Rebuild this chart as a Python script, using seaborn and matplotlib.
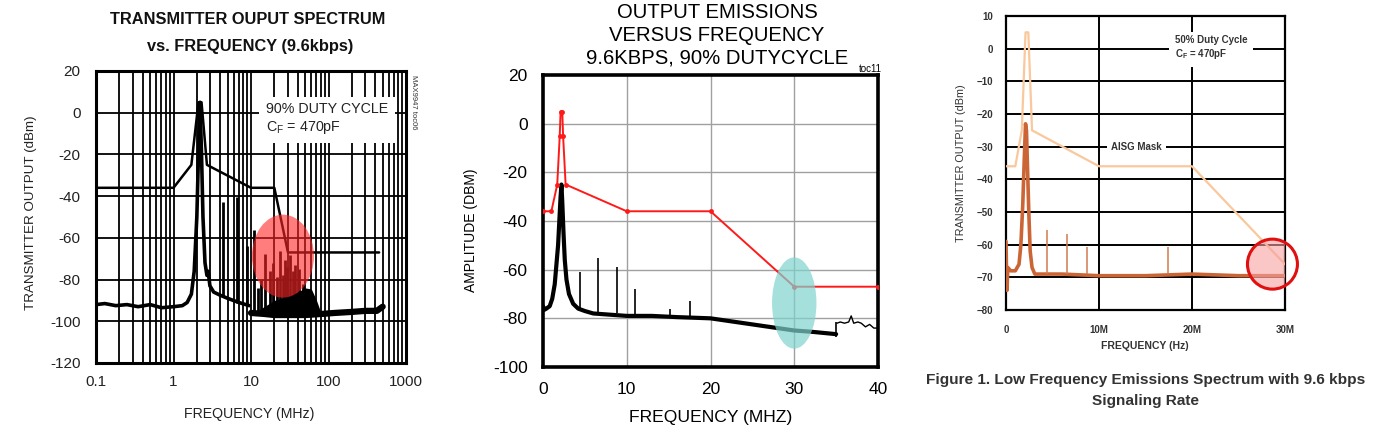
import matplotlib

matplotlib.use("Agg")
import matplotlib.pyplot as plt
import numpy as np
import pandas as pd
import seaborn as sns
from matplotlib.patches import Ellipse
from matplotlib.ticker import FixedLocator, FixedFormatter, NullFormatter

# ---- panel 1: transmitter output spectrum (log freq, MHz) ----
mask1_f = [0.1, 1, 1.7, 2.1, 2.3, 2.7, 10, 20, 30, 450]
mask1_db = [-36, -36, -25, 5, 5, -25, -36, -36, -67, -67]
spec1_f = [0.1, 0.13, 0.18, 0.25, 0.35, 0.5, 0.7, 1.0, 1.3, 1.5, 1.7, 1.85, 2.0, 2.1, 2.2,
           2.3, 2.4, 2.55, 2.7, 2.8, 2.95, 3.3, 4, 5, 7, 9.5]
spec1_db = [-92, -91.5, -92.5, -92, -93, -92, -93.5, -93, -92.5, -91, -87, -76, -50, -20, 5,
            -20, -50, -72, -78, -76, -83, -86, -87.5, -89, -91, -92.5]
floor1_f = [10, 15, 20, 30, 50, 80, 120, 200, 300, 420, 500]
floor1_db = [-96, -96.5, -97, -97, -97, -96.5, -96, -95.5, -95, -95, -93]
hump1_f = [12, 20, 30, 40, 50, 60, 70, 80]
hump1_db = [-95, -90, -88, -86, -84, -84.5, -90, -96]
harm1_f = [4.35, 6.6, 8.8, 11, 12.3, 13.4, 15.2, 17.6, 19.4, 21.5, 23.7, 25.5, 27.5, 29.5,
           31.9, 34.5, 37, 42, 47, 55]
harm1_db = [-43, -40.5, -64, -56, -84, -80, -67.5, -76, -72, -79, -66.5, -78, -70.5, -74,
            -68, -76, -73, -75, -82, -88]
harm1_base = [-88, -91, -92, -95, -96, -96, -96, -96, -96, -96, -96, -96, -96, -96,
              -96, -96, -96, -96, -96, -96]
ticks1_x = [0.1, 1, 10, 100, 1000]
ticks1_xlab = ["0.1", "1", "10", "100", "1000"]
ticks1_y = [20, 0, -20, -40, -60, -80, -100, -120]
ticks1_ylab = ["20", "0", "-20", "-40", "-60", "-80", "-100", "-120"]

# ---- panel 2: output emissions (linear freq, MHz) ----
mask2_f = [0, 1, 1.7, 2.0, 2.1, 2.3, 2.4, 2.7, 10, 20, 30, 40]
mask2_db = [-36, -36, -25, -5, 5, 5, -5, -25, -36, -36, -67, -67]
spec2_f = [0, 0.15, 0.4, 0.8, 1.1, 1.4, 1.6, 1.8, 1.95, 2.1, 2.2, 2.3, 2.45, 2.6, 2.8,
           3.1, 3.6, 4.2, 5, 6, 8, 10, 13, 16, 20, 23, 26, 28, 30, 32, 35]
spec2_db = [-75, -76.5, -76, -75, -72, -66, -58, -50, -40, -30, -25, -32, -45, -56, -64,
            -70, -74, -76, -77, -78, -78.5, -79, -79, -79.5, -80, -81.5, -83, -84, -85,
            -85.5, -86.5]
tail2_f = [35.1, 35.5, 36, 36.5, 36.8, 37.1, 37.6, 38, 38.5, 39, 39.5, 40]
tail2_db = [-82, -81.5, -82, -81.5, -79, -82, -81.5, -82, -83.5, -82.5, -84, -84]
harm2_f = [4.4, 6.6, 8.8, 11, 15.2, 17.5]
harm2_db = [-61, -55, -59, -68, -76, -73]
harm2_base = [-76, -77.5, -78, -79, -79.5, -79.5]
ticks2_x = [0, 10, 20, 30, 40]
ticks2_y = [20, 0, -20, -40, -60, -80, -100]
ticks2_ylab = ["20", "0", "-20", "-40", "-60", "-80", "-100"]

# ---- panel 3: low frequency emissions (MHz, labelled as Hz) ----
mask3_f = [0, 1, 1.7, 2.1, 2.4, 2.8, 10, 20, 30]
mask3_db = [-36, -36, -25, 5, 5, -25, -36, -36, -66]
spec3_f = [0, 0.05, 0.1, 0.2, 0.5, 1.0, 1.4, 1.6, 1.8, 1.95, 2.1, 2.2, 2.3, 2.45, 2.6,
           2.8, 3.1, 4, 6, 10, 15, 20, 25, 30]
spec3_db = [-59, -67, -74, -67, -68, -68, -66, -60, -48, -35, -23, -25, -35, -50, -62,
            -67, -69, -69, -69, -69.5, -69.5, -69, -69.5, -69.5]
harm3_f = [4.37, 6.53, 8.75, 17.4]
harm3_db = [-55.5, -56.7, -60.6, -60.6]
ticks3_x = [0, 10, 20, 30]
ticks3_xlab = ["0", "10M", "20M", "30M"]
ticks3_y = [10, 0, -10, -20, -30, -40, -50, -60, -70, -80]
ticks3_ylab = ["10", "0", "\u221210", "\u221220", "\u221230", "\u221240", "\u221250",
               "\u221260", "\u221270", "\u221280"]

W, H = 1373, 429
ARIAL = ["Liberation Sans", "DejaVu Sans"]

sns.set_style("white")
plt.rcParams["font.family"] = ARIAL


def px_axes(fig, x0, y0, x1, y1):
    return fig.add_axes([x0 / W, 1 - y1 / H, (x1 - x0) / W, (y1 - y0) / H])


fig = plt.figure(figsize=(W / 100, H / 100), dpi=100)
fig.patch.set_facecolor("white")

# ================= panel 1 =================
ax1 = px_axes(fig, 96, 71, 406, 363)
ax1.set_xscale("log")
ax1.set_xlim(0.1, 1000)
ax1.set_ylim(-120, 20)
minor1 = [m * 10.0 ** d for d in range(-1, 3) for m in range(2, 10)]
for v in minor1 + ticks1_x[1:-1]:
    ax1.axvline(v, color="black", lw=1.3, zorder=0)
for v in ticks1_y[1:-1]:
    ax1.axhline(v, color="black", lw=1.3, zorder=0)

sns.lineplot(x=mask1_f, y=mask1_db, ax=ax1, color="black", lw=1.8, sort=False, zorder=3)
sns.lineplot(x=spec1_f, y=spec1_db, ax=ax1, color="black", lw=2.6, sort=False, zorder=3)
sns.lineplot(x=floor1_f, y=floor1_db, ax=ax1, color="black", lw=4.5, sort=False, zorder=3)
ax1.fill_between(hump1_f, [-97] * len(hump1_f), hump1_db, color="black", lw=0, zorder=3)
ax1.vlines(harm1_f, harm1_base, harm1_db, color="black", lw=2.0, zorder=3)
ax1.add_patch(Ellipse((0.603, 0.366), 0.2, 0.284, transform=ax1.transAxes,
                      facecolor=(1, 0.15, 0.15), alpha=0.6, lw=0, zorder=4))

ax1.xaxis.set_major_locator(FixedLocator(ticks1_x))
ax1.xaxis.set_major_formatter(FixedFormatter(ticks1_xlab))
ax1.xaxis.set_minor_formatter(NullFormatter())
ax1.yaxis.set_major_locator(FixedLocator(ticks1_y))
ax1.yaxis.set_major_formatter(FixedFormatter(ticks1_ylab))
ax1.tick_params(axis="both", length=0, labelsize=11, colors="#222222")
ax1.tick_params(axis="x", pad=9)
ax1.tick_params(axis="y", pad=11)
ax1.tick_params(which="minor", length=0)
for s in ax1.spines.values():
    s.set_visible(True)
    s.set_color("black")
    s.set_linewidth(2.2)
ax1.set_xlabel("FREQUENCY (MHz)", fontsize=10.2, color="#222222")
ax1.set_ylabel("TRANSMITTER OUTPUT (dBm)", fontsize=9.6, color="#222222")
ax1.xaxis.set_label_coords(0.495, -0.151)
ax1.yaxis.set_label_coords(-0.19, 0.514)
ax1.text(0.548, 0.835, "90% DUTY CYCLE\nC$_\\mathregular{F}$ = 470pF", transform=ax1.transAxes,
         fontsize=10.3, color="#222222", va="center", ha="left", linespacing=1.3,
         bbox=dict(facecolor="white", edgecolor="none", pad=5), zorder=5)
fig.text(248 / W, 1 - 20 / H, "TRANSMITTER OUPUT SPECTRUM", weight="bold",
         fontsize=11.8, ha="center", va="center", color="#111111")
fig.text(250 / W, 1 - 46 / H, "vs. FREQUENCY (9.6kbps)", weight="bold",
         fontsize=11.8, ha="center", va="center", color="#111111")
fig.text(413 / W, 1 - 102 / H, "MAX9947 toc06", fontsize=5.5, rotation=270,
         ha="center", va="center", color="#333333")

# ================= panel 2 =================
ax2 = px_axes(fig, 543, 75, 878, 367)
ax2.set_xlim(0, 40)
ax2.set_ylim(-100, 20)
for v in ticks2_x[1:-1]:
    ax2.axvline(v, color="#a0a0a0", lw=1.0, zorder=0)
for v in ticks2_y[1:-1]:
    ax2.axhline(v, color="#a0a0a0", lw=1.0, zorder=0)

sns.lineplot(x=spec2_f, y=spec2_db, ax=ax2, color="black", lw=3.0, sort=False, zorder=3)
sns.lineplot(x=tail2_f, y=tail2_db, ax=ax2, color="black", lw=1.0, sort=False, zorder=3)
ax2.vlines(harm2_f, harm2_base, harm2_db, color="black", lw=1.2, zorder=3)
ax2.vlines([35], [-87.5], [-81.5], color="black", lw=1.2, zorder=3)
sns.lineplot(x=mask2_f, y=mask2_db, ax=ax2, color="#ff1a1a", lw=1.4, sort=False,
             marker="o", markersize=3.5, markeredgewidth=0, zorder=4)
ax2.add_patch(Ellipse((30, -73.7), 5.3, 37.5, facecolor="#7fd3cf", alpha=0.7, lw=0, zorder=5))

ax2.xaxis.set_major_locator(FixedLocator(ticks2_x))
ax2.yaxis.set_major_locator(FixedLocator(ticks2_y))
ax2.yaxis.set_major_formatter(FixedFormatter(ticks2_ylab))
ax2.tick_params(axis="both", length=0, labelsize=12.5, colors="black")
ax2.tick_params(axis="x", pad=11)
ax2.tick_params(axis="y", pad=11)
for s in ax2.spines.values():
    s.set_visible(True)
    s.set_color("black")
    s.set_linewidth(2.6)
ax2.set_xlabel("FREQUENCY (MHZ)", fontsize=12.6, color="black")
ax2.set_ylabel("AMPLITUDE (DBM)", fontsize=10, color="black")
ax2.xaxis.set_label_coords(0.5, -0.147)
ax2.yaxis.set_label_coords(-0.194, 0.47)
for i, line in enumerate(["OUTPUT EMISSIONS", "VERSUS FREQUENCY", "9.6KBPS, 90% DUTYCYCLE"]):
    fig.text(717 / W, 1 - (13 + 22.5 * i) / H, line, fontsize=14.6, ha="center", va="center",
             color="black")
fig.text(870 / W, 1 - 69 / H, "toc11", fontsize=7, ha="center", va="center", color="black")

# ================= panel 3 =================
ax3 = px_axes(fig, 1006, 16, 1285, 310)
ax3.set_xlim(0, 30)
ax3.set_ylim(-80, 10)
for v in ticks3_x[1:-1]:
    ax3.axvline(v, color="black", lw=1.4, zorder=0)
for v in ticks3_y[1:-1]:
    ax3.axhline(v, color="black", lw=1.4, zorder=0)

sns.lineplot(x=mask3_f, y=mask3_db, ax=ax3, color="#f9c89c", lw=1.6, sort=False, zorder=3)
sns.lineplot(x=spec3_f, y=spec3_db, ax=ax3, color="#cc6535", lw=2.6, sort=False, zorder=4)
ax3.vlines(harm3_f, [-69] * len(harm3_f), harm3_db, color="#d27a50", lw=1.1, zorder=4)
ax3.add_patch(Ellipse((0.955, 0.156), 50 / 279, 50 / 294, transform=ax3.transAxes,
                      facecolor="#f7a0a0", alpha=0.6, edgecolor="none", zorder=5))
ax3.add_patch(Ellipse((0.955, 0.156), 50 / 279, 50 / 294, transform=ax3.transAxes,
                      facecolor="none", edgecolor="#e01010", lw=2.2, zorder=6, clip_on=False))

ax3.xaxis.set_major_locator(FixedLocator(ticks3_x))
ax3.xaxis.set_major_formatter(FixedFormatter(ticks3_xlab))
ax3.yaxis.set_major_locator(FixedLocator(ticks3_y))
ax3.yaxis.set_major_formatter(FixedFormatter(ticks3_ylab))
ax3.tick_params(axis="both", length=0, labelsize=7, colors="#333333")
ax3.tick_params(axis="x", pad=11)
ax3.tick_params(axis="y", pad=9)
for lab in ax3.get_xticklabels() + ax3.get_yticklabels():
    lab.set_weight("bold")
for s in ax3.spines.values():
    s.set_visible(True)
    s.set_color("black")
    s.set_linewidth(1.6)
ax3.set_xlabel("FREQUENCY (Hz)", weight="bold", fontsize=7.5, color="#333333")
ax3.set_ylabel("TRANSMITTER OUTPUT (dBm)", fontsize=7.8, color="#333333")
ax3.xaxis.set_label_coords(0.498, -0.105)
ax3.yaxis.set_label_coords(-0.143, 0.5)
ax3.text(0.605, 0.89, "50% Duty Cycle\nC$_\\mathregular{F}$ = 470pF", transform=ax3.transAxes,
         weight="bold", fontsize=7, color="#333333", va="center", ha="left",
         linespacing=1.2, bbox=dict(facecolor="white", edgecolor="none", pad=4), zorder=5)
ax3.text(0.466, 0.555, "AISG Mask", transform=ax3.transAxes, weight="bold",
         fontsize=7, color="#333333", va="center", ha="center",
         bbox=dict(facecolor="white", edgecolor="none", pad=3), zorder=5)
fig.text(1146 / W, 1 - 380 / H, "Figure 1. Low Frequency Emissions Spectrum with 9.6 kbps",
         weight="bold", fontsize=11.1, ha="center", va="center", color="#333333")
fig.text(1146 / W, 1 - 401 / H, "Signaling Rate", weight="bold", fontsize=11.1,
         ha="center", va="center", color="#333333")

fig.savefig("out.png", dpi=100)
